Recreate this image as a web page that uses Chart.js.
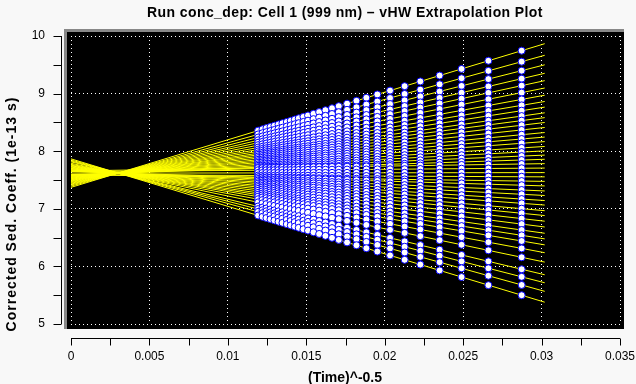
<!DOCTYPE html>
<html>
<head>
<meta charset="utf-8">
<script src="https://cdn.jsdelivr.net/npm/chart.js@4.4.1/dist/chart.umd.min.js"></script>
<style>
  html, body { margin: 0; padding: 0; background: #f8f8f8; }
</style>
</head>
<body>
<canvas id="myChart" width="636" height="384"></canvas>
<script>
const chartTitle = "Run conc_dep: Cell 1 (999 nm) – vHW Extrapolation Plot";
const xTitle = "(Time)^-0.5";
const yTitle = "Corrected Sed. Coeff. (1e-13 s)";

const xTicks = [0, 0.005, 0.01, 0.015, 0.02, 0.025, 0.03, 0.035];
const yTicks = [5, 6, 7, 8, 9, 10];

// scan positions on the x axis, (time)^-0.5
const scanX = [
  0.01193, 0.01221, 0.01246, 0.01272, 0.01297, 0.01323, 0.01348, 0.01376,
  0.01401, 0.01427, 0.01452, 0.01482, 0.01511, 0.01546, 0.01582, 0.01622,
  0.01664, 0.01707, 0.0176, 0.0182, 0.01883, 0.01953, 0.02034, 0.02127,
  0.02227, 0.0235, 0.0249, 0.02661, 0.02873
];

// fitted line per boundary fraction: value at x = 0 and slope
const fitIntercept = [
  7.372, 7.394, 7.413, 7.429, 7.443, 7.457, 7.471, 7.483, 7.494, 7.504,
  7.514, 7.523, 7.533, 7.542, 7.551, 7.56, 7.569, 7.577, 7.585, 7.594,
  7.657, 7.644, 7.619, 7.594, 7.591, 7.645, 7.654, 7.663, 7.672, 7.681,
  7.692, 7.701, 7.712, 7.723, 7.735, 7.746, 7.757, 7.772, 7.79, 7.815,
  7.83, 7.847, 7.867
];
const fitSlope = [
  82.6, 75.2, 69.1, 63.7, 59.0, 54.3, 49.7, 45.7, 42.1, 38.5,
  35.4, 32.3, 29.1, 25.9, 23.0, 20.1, 17.0, 14.2, 11.5, 8.8,
  4.2, 2.1, 0.3, -1.3, -3.8, -8.2, -11.4, -14.3, -17.5, -20.4,
  -24.0, -27.1, -30.7, -34.4, -38.4, -42.0, -45.8, -50.8, -56.8, -64.9,
  -70.0, -75.5, -82.4
];
const lineEndX = 0.0302;

function fitValue(i, x) {
  return fitIntercept[i] + fitSlope[i] * x;
}

const lineSets = fitIntercept.map((a, i) => ({
  label: "fraction " + (i + 1),
  data: [
    { x: 0, y: a },
    { x: lineEndX, y: fitValue(i, lineEndX) },
  ],
  showLine: true,
  borderColor: "#ffff00",
  borderWidth: 1,
  pointRadius: 0,
  order: 1,
}));

const scanPoints = [];
scanX.forEach((x) => {
  fitIntercept.forEach((a, i) => scanPoints.push({ x: x, y: fitValue(i, x) }));
});

const plotFrame = {
  id: "plotFrame",
  beforeDraw(chart) {
    const { ctx, chartArea: a } = chart;
    ctx.save();
    ctx.fillStyle = "#888888";
    ctx.fillRect(a.left - 7, a.top - 7, a.right - a.left + 11, 3);
    ctx.fillRect(a.left - 7, a.top - 7, 3, a.bottom - a.top + 12);
    ctx.fillStyle = "#000000";
    ctx.fillRect(a.left - 4, a.top - 4, a.right - a.left + 8, a.bottom - a.top + 9);
    ctx.restore();
  },
  afterDraw(chart) {
    const { ctx, scales } = chart;
    const xs = scales.x, ys = scales.y;
    ctx.save();
    ctx.strokeStyle = "#000";
    ctx.lineWidth = 1;
    ctx.beginPath();
    // y axis
    const ax = 61.5;
    ctx.moveTo(ax, ys.getPixelForValue(10));
    ctx.lineTo(ax, ys.getPixelForValue(5));
    for (let v = 5; v <= 10; v += 0.5) {
      const py = Math.round(ys.getPixelForValue(v)) + 0.5;
      ctx.moveTo(ax - 8, py);
      ctx.lineTo(ax, py);
    }
    // x axis
    const ay = 338.5;
    ctx.moveTo(xs.getPixelForValue(0), ay);
    ctx.lineTo(xs.getPixelForValue(0.035), ay);
    for (let k = 0; k <= 14; k++) {
      const px = Math.round(xs.getPixelForValue(k * 0.0025)) + 0.5;
      ctx.moveTo(px, ay);
      ctx.lineTo(px, ay + 7);
    }
    ctx.stroke();

    ctx.fillStyle = "#000";
    ctx.font = 'bold 14px "Liberation Sans", Arial, sans-serif';
    ctx.textAlign = "center";
    ctx.textBaseline = "middle";
    ctx.letterSpacing = "0.4px";
    ctx.fillText(chartTitle, 345, 13);
    ctx.letterSpacing = "0px";
    ctx.fillText(xTitle, 345, 378);
    ctx.translate(12, 214);
    ctx.rotate(-Math.PI / 2);
    ctx.letterSpacing = "1px";
    ctx.fillText(yTitle, 0, 0);
    ctx.restore();
  },
};

const tickFont = { family: '"Liberation Sans", Arial, sans-serif', size: 12 };

new Chart(document.getElementById("myChart"), {
  type: "scatter",
  data: {
    datasets: [
      {
        label: "scans",
        data: scanPoints,
        pointRadius: 3.5,
        pointBorderWidth: 1,
        pointBackgroundColor: "#ffffff",
        pointBorderColor: "#0000ff",
        showLine: false,
        order: 0,
      },
      ...lineSets,
    ],
  },
  options: {
    responsive: false,
    devicePixelRatio: 1,
    animation: false,
    events: [],
    layout: { padding: { top: 36, right: 16, left: 0, bottom: 0 } },
    plugins: {
      legend: { display: false },
      tooltip: { enabled: false },
      title: { display: false },
    },
    scales: {
      x: {
        type: "linear",
        min: 0,
        max: 0.035,
        afterFit: (s) => {
          s.height = 60;
          s.paddingLeft = 0;
          s.paddingRight = 0;
        },
        afterBuildTicks: (s) => { s.ticks = xTicks.map((v) => ({ value: v })); },
        grid: { color: "#ffffff", drawTicks: false },
        border: { display: false, dash: [1, 3] },
        ticks: {
          color: "#000",
          font: tickFont,
          padding: 25,
          maxRotation: 0,
          callback: (v) => String(v),
        },
      },
      y: {
        type: "linear",
        min: 5,
        max: 10,
        afterFit: (s) => {
          s.width = 71;
          s.paddingTop = 0;
          s.paddingBottom = 0;
        },
        afterBuildTicks: (s) => { s.ticks = yTicks.map((v) => ({ value: v })); },
        grid: { color: "#ffffff", drawTicks: false },
        border: { display: false, dash: [1, 3] },
        ticks: {
          color: "#000",
          font: tickFont,
          padding: 26,
          callback: (v) => String(v),
        },
      },
    },
  },
  plugins: [plotFrame],
});
</script>
</body>
</html>
